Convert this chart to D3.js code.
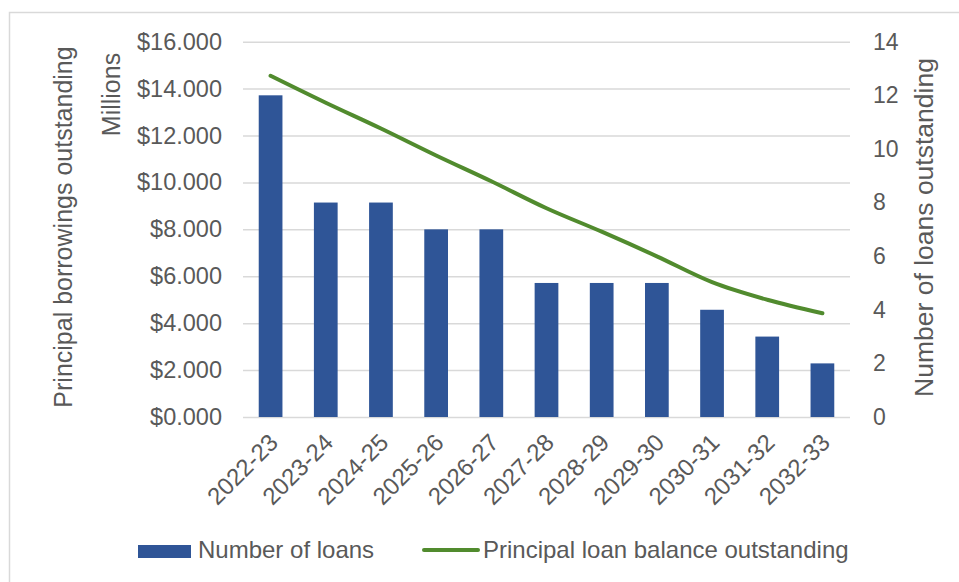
<!DOCTYPE html>
<html>
<head>
<meta charset="utf-8">
<script src="https://cdn.jsdelivr.net/npm/d3@7"></script>
<style>
  html, body { margin: 0; padding: 0; background: #fff; }
  svg { display: block; font-family: "Liberation Sans", Arial, sans-serif; }
  .tick text { fill: #595959; }
</style>
</head>
<body>
<svg id="chart" width="959" height="582"></svg>
<script>
// Fiscal years on the category axis
const categories = ['2022-23', '2023-24', '2024-25', '2025-26', '2026-27', '2027-28',
                    '2028-29', '2029-30', '2030-31', '2031-32', '2032-33'];
// Number of loans outstanding (right axis)
const loans = [12, 8, 8, 7, 7, 5, 5, 5, 4, 3, 2];
// Principal loan balance outstanding, $ millions (left axis)
const balance = [14.55, 13.4, 12.3, 11.15, 10.05, 8.9, 7.9, 6.85, 5.75, 5.0, 4.42];
// Axis ticks
const leftTicks = [0, 2, 4, 6, 8, 10, 12, 14, 16];
const rightTicks = [0, 2, 4, 6, 8, 10, 12, 14];

const svg = d3.select('#chart');
const plot = { left: 243, right: 850, top: 41.7, bottom: 417 };
const textColor = '#595959';
const gridColor = '#d9d9d9';
const barColor = '#2f5597';
const lineColor = '#518b2e';

// Chart border
svg.append('rect')
  .attr('x', 9.5).attr('y', 12.5)
  .attr('width', 970).attr('height', 600)
  .attr('fill', 'none').attr('stroke', gridColor).attr('stroke-width', 1.5);

const x = d3.scaleBand().domain(categories)
  .range([plot.left, plot.right]).paddingInner(0.57).paddingOuter(0.285);
const yLeft = d3.scaleLinear().domain([0, 16]).range([plot.bottom, plot.top]);
const yRight = d3.scaleLinear().domain([0, 14]).range([plot.bottom, plot.top]);

// Horizontal gridlines
svg.append('g')
  .attr('transform', `translate(${plot.left},0)`)
  .call(d3.axisLeft(yLeft).tickValues(leftTicks).tickSize(-(plot.right - plot.left)).tickFormat(''))
  .call(g => g.select('.domain').remove())
  .call(g => g.selectAll('line').attr('stroke', gridColor).attr('stroke-width', 1.5));

// Left axis labels
svg.append('g')
  .attr('transform', `translate(${plot.left},0)`)
  .call(d3.axisLeft(yLeft).tickValues(leftTicks).tickSize(0).tickPadding(21)
    .tickFormat(d => '$' + d.toFixed(3)))
  .call(g => g.select('.domain').remove())
  .call(g => g.selectAll('text').attr('font-size', 23.5).attr('font-family', null));

// Right axis labels
svg.append('g')
  .attr('transform', `translate(${plot.right},0)`)
  .call(d3.axisRight(yRight).tickValues(rightTicks).tickSize(0).tickPadding(23))
  .call(g => g.select('.domain').remove())
  .call(g => g.selectAll('text').attr('font-size', 23).attr('font-family', null));

// Bars: number of loans
svg.append('g').selectAll('rect')
  .data(categories)
  .join('rect')
  .attr('x', d => x(d))
  .attr('width', x.bandwidth())
  .attr('y', (d, i) => yRight(loans[i]))
  .attr('height', (d, i) => yRight(0) - yRight(loans[i]))
  .attr('fill', barColor);

// Line: principal balance
const line = d3.line()
  .x((d, i) => x(categories[i]) + x.bandwidth() / 2)
  .y(d => yLeft(d))
  .curve(d3.curveMonotoneX);
svg.append('path')
  .datum(balance)
  .attr('d', line)
  .attr('fill', 'none')
  .attr('stroke', lineColor)
  .attr('stroke-width', 4)
  .attr('stroke-linecap', 'round')
  .attr('stroke-linejoin', 'round');

// Category labels, rotated
svg.append('g').selectAll('text')
  .data(categories)
  .join('text')
  .attr('transform', d => `translate(${x(d) + x.bandwidth() / 2 + 3},438) rotate(-45)`)
  .attr('text-anchor', 'end')
  .attr('dy', '0.35em')
  .attr('font-size', 24)
  .attr('fill', textColor)
  .text(d => d);

// Axis titles
svg.append('text')
  .attr('transform', 'translate(72,227) rotate(-90)')
  .attr('text-anchor', 'middle')
  .attr('font-size', 25)
  .attr('fill', textColor)
  .text('Principal borrowings outstanding');

svg.append('text')
  .attr('transform', 'translate(120,94.5) rotate(-90)')
  .attr('text-anchor', 'middle')
  .attr('font-size', 25)
  .attr('fill', textColor)
  .text('Millions');

svg.append('text')
  .attr('transform', 'translate(933,227.5) rotate(-90)')
  .attr('text-anchor', 'middle')
  .attr('font-size', 26.5)
  .attr('fill', textColor)
  .text('Number of loans outstanding');

// Legend
const legend = svg.append('g');
legend.append('rect')
  .attr('x', 138).attr('y', 545).attr('width', 53).attr('height', 13)
  .attr('fill', barColor);
legend.append('text')
  .attr('x', 198).attr('y', 558)
  .attr('font-size', 24).attr('fill', textColor)
  .text('Number of loans');
legend.append('line')
  .attr('x1', 424).attr('x2', 478).attr('y1', 550).attr('y2', 550)
  .attr('stroke', lineColor).attr('stroke-width', 4).attr('stroke-linecap', 'round');
legend.append('text')
  .attr('x', 483).attr('y', 558)
  .attr('font-size', 24).attr('fill', textColor)
  .text('Principal loan balance outstanding');
</script>
</body>
</html>
